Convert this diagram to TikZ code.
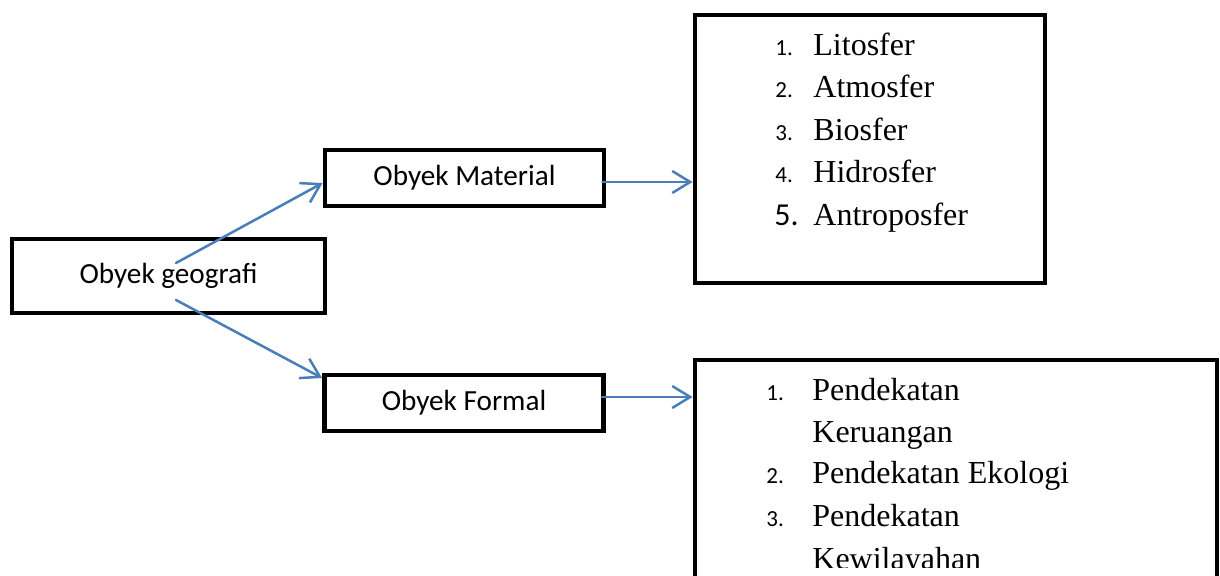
\documentclass[tikz,border=0pt]{standalone}
\usepackage{fontspec}
\setmainfont{Liberation Serif}
\newfontfamily\calib{Carlito}
\usetikzlibrary{arrows.meta,calc}
\definecolor{arrblue}{RGB}{74,126,187}
\tikzset{
  box/.style={draw=black, line width=2.4pt, fill=white, inner sep=0pt, rectangle},
  lbl/.style={font=\calib\fontsize{14.6}{17}\selectfont},
  arr/.style={draw=arrblue, line width=1.25pt, line cap=round,
    -{Straight Barb[length=9pt,width=11pt,line width=1.25pt]}},
  num/.style={anchor=base west, inner sep=0pt, font=\calib\fontsize{11.5}{13}\selectfont},
  bignum/.style={anchor=base west, inner sep=0pt, font=\calib\fontsize{16}{18}\selectfont},
  item/.style={anchor=base west, inner sep=0pt, font=\fontsize{16}{18}\selectfont},
}
\begin{document}
\begin{tikzpicture}[x=0.5pt,y=-0.5pt]
\useasboundingbox (0,0) rectangle (1220,576);
\clip (0,0) rectangle (1220,576);

% boxes
\node[box, lbl, minimum width=156.5pt, minimum height=37pt] (geo) at (168.5,276) {Obyek geografi};
\node[box, lbl, minimum width=139.5pt, minimum height=28pt] (mat) at (464.5,178) {Obyek Material};
\node[box, lbl, minimum width=139.5pt, minimum height=28pt] (form) at (464,403) {Obyek Formal};
\node[box, minimum width=175pt, minimum height=134pt] (list1) at (870,149) {};
\node[box, minimum width=261pt, minimum height=150pt] (list2) at (956,510) {};

% list 1
\node[num] (n11) at (775,56) {1.};
\node[item] (t11) at (813,56) {Litosfer};
\node[num] (n12) at (775,98) {2.};
\node[item] (t12) at (813,98) {Atmosfer};
\node[num] (n13) at (775,141) {3.};
\node[item] (t13) at (813,141) {Biosfer};
\node[num] (n14) at (775,183) {4.};
\node[item] (t14) at (813,183) {Hidrosfer};
\node[bignum] (n15) at (774,226) {5.};
\node[item] (t15) at (813,226) {Antroposfer};

% list 2
\begin{scope}
\clip (0,0) rectangle (1220,567);
\node[num] (n21) at (766,401) {1.};
\node[item] (t21) at (812,401) {Pendekatan};
\node[item] (t22) at (812,443) {Keruangan};
\node[num] (n23) at (766,484) {2.};
\node[item] (t23) at (812,484) {Pendekatan Ekologi};
\node[num] (n24) at (766,526) {3.};
\node[item] (t24) at (812,526) {Pendekatan};
\node[item] (t25) at (812,569) {Kewilayahan};
\end{scope}

% connectors
\coordinate (s1) at (176,263);
\coordinate (s2) at (176,300);
\draw[arr] (s1) -- ($(mat.west)+(0,5)$);
\draw[arr] (s2) -- ($(form.west)+(0,-25)$);
\coordinate (m1) at ($(mat.east)+(-4,4)$);
\coordinate (f1) at ($(form.east)+(-4,-6)$);
\draw[arr] (m1) -- (m1 -| list1.west);
\draw[arr] (f1) -- (f1 -| list2.west);
\end{tikzpicture}
\end{document}
